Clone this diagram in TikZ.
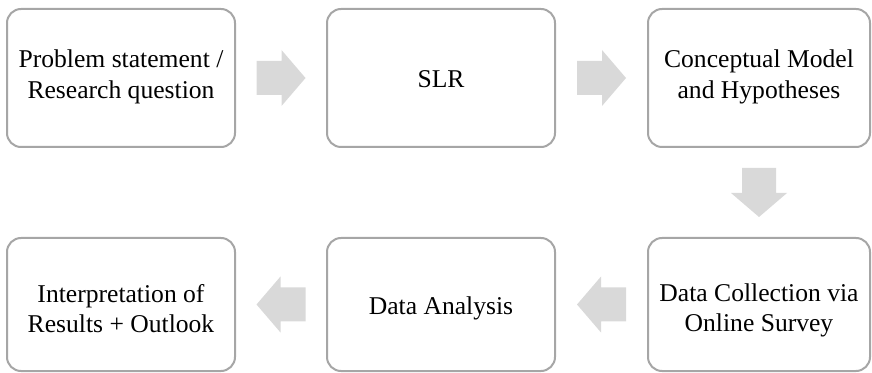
\documentclass[tikz,border=0pt]{standalone}
\usepackage{fontspec}
\setmainfont{Liberation Serif}
\usetikzlibrary{calc}

\definecolor{boxline}{HTML}{A6A6A6}
\definecolor{arrowfill}{HTML}{D9D9D9}

\tikzset{
  stepbox/.style={draw=boxline, line width=2pt, fill=white, rounded corners=14pt,
    rectangle, anchor=north west, outer sep=0pt, inner sep=0pt},
  steptext/.style={align=center, inner sep=0pt,
    font=\fontsize{25.6}{30.5}\selectfont, text=black},
  toprow/.style={minimum width=228pt, minimum height=138pt},
  bottomrow/.style={minimum width=228pt, minimum height=133pt},
  flowarrow/.pic={
    \fill[arrowfill] (-24.5,-17) -- (0.5,-17) -- (0.5,-28) -- (24.5,0)
      -- (0.5,28) -- (0.5,17) -- (-24.5,17) -- cycle;
  }
}

\begin{document}
\begin{tikzpicture}[x=1pt, y=1pt]
  \useasboundingbox (0,0) rectangle (872,372);

  % upper row of steps
  \node[stepbox, toprow] (problem) at (7,363) {};
  \node[stepbox, toprow] (slr) at (327,363) {};
  \node[stepbox, toprow, minimum width=222pt] (model) at (648,363) {};

  % lower row of steps
  \node[stepbox, bottomrow] (results) at (7,134) {};
  \node[stepbox, bottomrow] (analysis) at (327,134) {};
  \node[stepbox, bottomrow, minimum width=222pt] (survey) at (648,134) {};

  % step labels
  \node[steptext] (problem-t) at ($(problem.center)+(0,1)$) {Problem statement /\\Research question};
  \node[steptext] (slr-t) at ($(slr.center)+(0,-1)$) {SLR};
  \node[steptext] (model-t) at ($(model.center)+(0,1)$) {Conceptual Model\\and Hypotheses};
  \node[steptext] (results-t) at ($(results.center)+(0,-4)$) {Interpretation of\\Results + Outlook};
  \node[steptext] (analysis-t) at ($(analysis.center)+(0,-4)$) {Data Analysis};
  \node[steptext] (survey-t) at ($(survey.center)+(0,-6)$) {Data Collection via\\Online Survey};

  % block arrows between the steps
  \pic at ($(problem.east)!0.5!(slr.west)$) {flowarrow};
  \pic at ($(slr.east)!0.5!(model.west)$) {flowarrow};
  \pic[rotate=-90] at ($(model.south)!0.5!(survey.north)$) {flowarrow};
  \pic[rotate=180] at ($(survey.west)!0.5!(analysis.east)$) {flowarrow};
  \pic[rotate=180] at ($(analysis.west)!0.5!(results.east)$) {flowarrow};
\end{tikzpicture}
\end{document}
